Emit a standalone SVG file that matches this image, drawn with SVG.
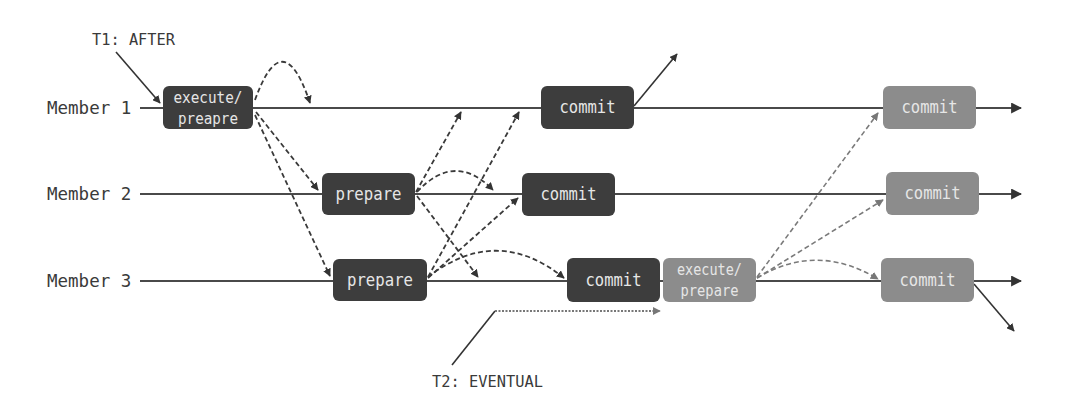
<svg xmlns="http://www.w3.org/2000/svg" width="1068" height="404" viewBox="0 0 1068 404">
<defs>
<style>
.lbl{font-family:"DejaVu Sans Mono","Liberation Mono",monospace;fill:#3a3a3a}
.bt{font-family:"DejaVu Sans Mono","Liberation Mono",monospace;fill:#e6e6e6;text-anchor:middle}
.dk{fill:#3d3d3d}
.gy{fill:#8c8c8c}
.tl{stroke:#4a4a4a;stroke-width:2.2;fill:none}
.dash{stroke:#3a3a3a;stroke-width:1.8;stroke-dasharray:5 3;fill:none}
.dashg{stroke:#7a7a7a;stroke-width:1.6;stroke-dasharray:5 3;fill:none}
.sol{stroke:#333;stroke-width:1.6;fill:none}
</style>
<marker id="ah" viewBox="0 0 10 10" refX="9" refY="5" markerWidth="8" markerHeight="8" markerUnits="userSpaceOnUse" orient="auto"><path d="M0,0 L10,5 L0,10 z" fill="#333"/></marker>
<marker id="ahg" viewBox="0 0 10 10" refX="9" refY="5" markerWidth="8" markerHeight="8" markerUnits="userSpaceOnUse" orient="auto"><path d="M0,0 L10,5 L0,10 z" fill="#777"/></marker>
<marker id="ahl" viewBox="0 0 10 10" refX="9" refY="5" markerWidth="11" markerHeight="11" markerUnits="userSpaceOnUse" orient="auto"><path d="M0,0 L10,5 L0,10 z" fill="#333"/></marker>
</defs>
<rect width="1068" height="404" fill="#fff"/>

<g id="timelines">
<text class="lbl" x="47" y="114" font-size="17.5">Member 1</text>
<text class="lbl" x="47" y="200" font-size="17.5">Member 2</text>
<text class="lbl" x="47" y="287" font-size="17.5">Member 3</text>
<line class="tl" x1="140" y1="108" x2="1021" y2="108" marker-end="url(#ahl)"/>
<line class="tl" x1="140" y1="194" x2="1021" y2="194" stroke-width="1.6" stroke="#333" marker-end="url(#ahl)"/>
<line class="tl" x1="140" y1="281" x2="1021" y2="281" marker-end="url(#ahl)"/>
</g>

<g id="connectors">
<path class="dash" d="M255,100 Q283,22 310,103" marker-end="url(#ah)"/>
<path class="dash" d="M256,112 L318,190" marker-end="url(#ah)"/>
<path class="dash" d="M255,115 L330,276" marker-end="url(#ah)"/>
<path class="dash" d="M416,192 L461,112" marker-end="url(#ah)"/>
<path class="dash" d="M417,192 Q455,151 493,190" marker-end="url(#ah)"/>
<path class="dash" d="M417,196 L478,277" marker-end="url(#ah)"/>
<path class="dash" d="M428,277 L519,112" marker-end="url(#ah)"/>
<path class="dash" d="M428,278 L518,198" marker-end="url(#ah)"/>
<path class="dash" d="M428,277 Q497,224 564,278" marker-end="url(#ah)"/>
<path class="dashg" d="M757,277 L878,113" marker-end="url(#ahg)"/>
<path class="dashg" d="M757,278 L883,200" marker-end="url(#ahg)"/>
<path class="dashg" d="M757,278 Q817,242 878,279" marker-end="url(#ahg)"/>
<path class="sol" d="M116,52 L160,103" marker-end="url(#ah)"/>
<path class="sol" d="M634,106 L677,54" marker-end="url(#ah)"/>
<path class="sol" d="M974,284 L1014,331" marker-end="url(#ah)"/>
<path class="sol" d="M452,365 L495,311" stroke="#555" stroke-width="1.3"/>
<path d="M495,311 L660,311" stroke="#777" stroke-width="1.8" stroke-dasharray="2 1.5" fill="none" marker-end="url(#ahg)"/>
</g>

<g id="t1-label"><text class="lbl" x="92" y="45" font-size="16.5" textLength="83" lengthAdjust="spacingAndGlyphs">T1: AFTER</text></g>
<g id="t2-label"><text class="lbl" x="432" y="387" font-size="16.5" textLength="111" lengthAdjust="spacingAndGlyphs">T2: EVENTUAL</text></g>

<g id="m1-execute">
<rect class="dk" x="163" y="86" width="90" height="43" rx="6"/>
<text class="bt" x="208" y="103" font-size="15.5" textLength="69" lengthAdjust="spacingAndGlyphs">execute/</text>
<text class="bt" x="208" y="124" font-size="15.5" textLength="60" lengthAdjust="spacingAndGlyphs">preapre</text>
</g>
<g id="m2-prepare">
<rect class="dk" x="322" y="173" width="93" height="42" rx="6"/>
<text class="bt" x="368.5" y="200" font-size="17" textLength="66" lengthAdjust="spacingAndGlyphs">prepare</text>
</g>
<g id="m3-prepare">
<rect class="dk" x="333" y="259" width="94" height="42" rx="6"/>
<text class="bt" x="380" y="286" font-size="17" textLength="66" lengthAdjust="spacingAndGlyphs">prepare</text>
</g>
<g id="m1-commit">
<rect class="dk" x="541" y="86" width="93" height="43" rx="6"/>
<text class="bt" x="587.5" y="113" font-size="17" textLength="56" lengthAdjust="spacingAndGlyphs">commit</text>
</g>
<g id="m2-commit">
<rect class="dk" x="522" y="173" width="93" height="43" rx="6"/>
<text class="bt" x="568.5" y="200" font-size="17" textLength="56" lengthAdjust="spacingAndGlyphs">commit</text>
</g>
<g id="m3-commit">
<rect class="dk" x="567" y="258" width="93" height="44" rx="6"/>
<text class="bt" x="613.5" y="286" font-size="17" textLength="56" lengthAdjust="spacingAndGlyphs">commit</text>
</g>
<g id="m3-execute">
<rect class="gy" x="663" y="258" width="93" height="44" rx="6"/>
<text class="bt" x="709.5" y="275" font-size="15.5" textLength="65" lengthAdjust="spacingAndGlyphs">execute/</text>
<text class="bt" x="709.5" y="296" font-size="15.5" textLength="58" lengthAdjust="spacingAndGlyphs">prepare</text>
</g>
<g id="m1-commit2">
<rect class="gy" x="883" y="86" width="93" height="43" rx="6"/>
<text class="bt" x="929.5" y="113" font-size="17" textLength="56" lengthAdjust="spacingAndGlyphs">commit</text>
</g>
<g id="m2-commit2">
<rect class="gy" x="886" y="172" width="93" height="43" rx="6"/>
<text class="bt" x="932.5" y="199" font-size="17" textLength="56" lengthAdjust="spacingAndGlyphs">commit</text>
</g>
<g id="m3-commit2">
<rect class="gy" x="881" y="258" width="93" height="44" rx="6"/>
<text class="bt" x="927.5" y="286" font-size="17" textLength="56" lengthAdjust="spacingAndGlyphs">commit</text>
</g>
</svg>
